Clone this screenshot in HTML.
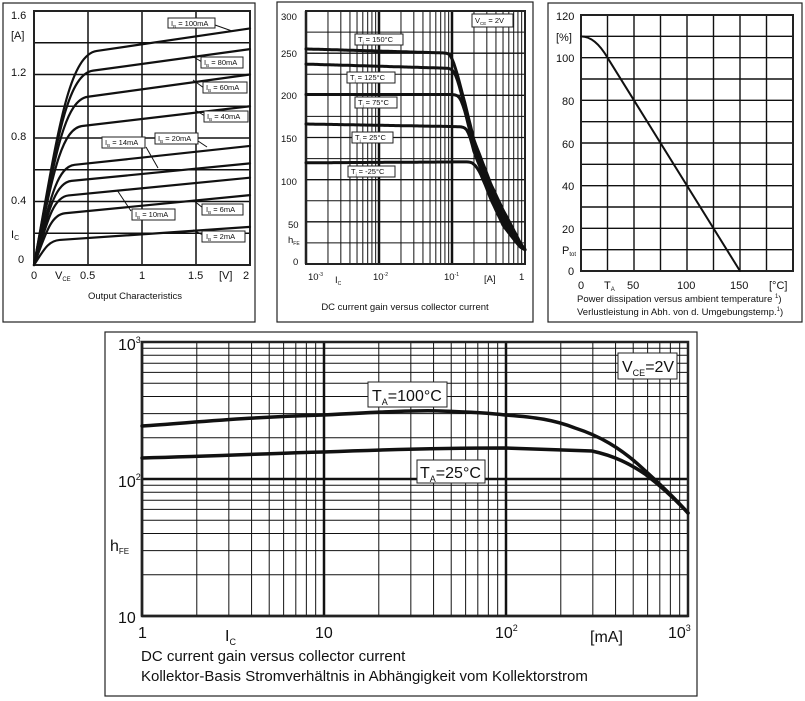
<!DOCTYPE html>
<html><head><meta charset="utf-8"><style>
html,body{margin:0;padding:0;background:#fff;width:805px;height:701px;overflow:hidden}
svg{position:absolute;left:0;top:0}
text{font-family:"Liberation Sans","DejaVu Sans",sans-serif;fill:#111}
</style></head><body>
<svg id="s" width="805" height="701" viewBox="0 0 805 701" xmlns="http://www.w3.org/2000/svg">
<g id="g"></g>
<g id="t">
<g font-size="11">
<text x="11" y="19">1.6</text><text x="11" y="39">[A]</text><text x="11" y="76">1.2</text>
<text x="11" y="140">0.8</text><text x="11" y="204">0.4</text><text x="11" y="238">I<tspan font-size="7" dy="2">C</tspan></text>
<text x="18" y="263">0</text>
<text x="31" y="279">0</text><text x="55" y="279">V<tspan font-size="6" dy="2">CE</tspan></text>
<text x="80" y="279">0.5</text><text x="139" y="279">1</text><text x="188" y="279">1.5</text>
<text x="219" y="279">[V]</text><text x="243" y="279">2</text>
</g>
<text x="135" y="299" font-size="9.5" text-anchor="middle">Output Characteristics</text>
<g font-size="9.5">
<text x="281" y="20">300</text><text x="281" y="57">250</text><text x="281" y="99">200</text>
<text x="281" y="142">150</text><text x="281" y="185">100</text><text x="288" y="228">50</text>
<text x="288" y="243">h<tspan font-size="5" dy="2">FE</tspan></text><text x="293" y="265">0</text>
<text x="308" y="280">10<tspan font-size="5" dy="-4">-3</tspan></text>
<text x="335" y="283">I<tspan font-size="5" dy="2">C</tspan></text>
<text x="373" y="280">10<tspan font-size="5" dy="-4">-2</tspan></text>
<text x="444" y="280">10<tspan font-size="5" dy="-4">-1</tspan></text>
<text x="484" y="282">[A]</text><text x="519" y="280">1</text>
</g>
<text x="405" y="310" font-size="9.5" text-anchor="middle">DC current gain versus collector current</text>
<g font-size="11">
<text x="556" y="20">120</text><text x="556" y="41">[%]</text><text x="556" y="62">100</text>
<text x="562" y="105">80</text><text x="562" y="148">60</text><text x="562" y="190">40</text>
<text x="562" y="233">20</text><text x="562" y="254">P<tspan font-size="6" dy="2">tot</tspan></text>
<text x="568" y="275">0</text>
<text x="578" y="289">0</text><text x="604" y="289">T<tspan font-size="6" dy="2">A</tspan></text>
<text x="627" y="289">50</text><text x="677" y="289">100</text><text x="730" y="289">150</text>
<text x="769" y="289">[°C]</text>
</g>
<g font-size="9.5"><text x="577" y="302">Power dissipation versus ambient temperature <tspan font-size="6" dy="-4">1</tspan><tspan dy="4">)</tspan></text>
<text x="577" y="315">Verlustleistung in Abh. von d. Umgebungstemp.<tspan font-size="6" dy="-4">1</tspan><tspan dy="4">)</tspan></text></g>
<g font-size="16">
<text x="118" y="350">10<tspan font-size="9" dy="-7">3</tspan></text>
<text x="118" y="487">10<tspan font-size="9" dy="-7">2</tspan></text>
<text x="110" y="551">h<tspan font-size="8" dy="3">FE</tspan></text>
<text x="118" y="623">10</text>
<text x="138" y="638">1</text><text x="315" y="638">10</text>
<text x="495" y="638">10<tspan font-size="9" dy="-7">2</tspan></text>
<text x="590" y="642">[mA]</text>
<text x="668" y="638">10<tspan font-size="9" dy="-7">3</tspan></text>
<text x="225" y="641">I<tspan font-size="9" dy="4">C</tspan></text>
</g>
<g font-size="15"><text x="141" y="661">DC current gain versus collector current</text>
<text x="141" y="681">Kollektor-Basis Stromverhältnis in Abhängigkeit vom Kollektorstrom</text></g>
</g>
</svg>
<script>
var NS="http://www.w3.org/2000/svg",G=document.getElementById('g');
function el(n,a,p){var e=document.createElementNS(NS,n);for(var k in a)e.setAttribute(k,a[k]);(p||G).appendChild(e);return e}
function ln(x1,y1,x2,y2,w){el('line',{x1:x1,y1:y1,x2:x2,y2:y2,stroke:'#111','stroke-width':w||1})}
function rect(x,y,w,h,sw,fill){el('rect',{x:x,y:y,width:w,height:h,fill:fill||'none',stroke:'#222','stroke-width':sw||1})}
function path(d,w){el('path',{d:d,fill:'none',stroke:'#111','stroke-width':w||2,'stroke-linejoin':'round','stroke-linecap':'round'})}
rect(3,3,252,319,1.2);rect(277,2,256,320,1.2);rect(548,3,254,319,1.2);rect(105,332,592,364,1.2);
var L1=34,R1=250,B1=265,T1=11;
for(var i=0;i<=8;i++){var y=B1-i*(B1-T1)/8;ln(L1,y,R1,y,1.5)}
for(var i=0;i<=4;i++){var x=L1+i*(R1-L1)/4;ln(x,T1,x,B1,1.5)}
rect(L1,T1,R1-L1,B1-T1,2);
function X1(v){return L1+v*(R1-L1)/2}function Y1(i){return B1-i*(B1-T1)/1.6}
[[1.34,1.49],[1.22,1.36],[1.06,1.2],[0.88,1.0],[0.64,0.75],[0.54,0.64],[0.45,0.55],[0.34,0.44],[0.17,0.24]].forEach(function(c){
 var m=(c[1]-c[0])/1.5,K=c[0]-0.5*m,vk=0.13+0.2*K;
 var d='M'+X1(0)+' '+Y1(0)+' C'+X1(0.55*vk)+' '+Y1(0.62*K)+' '+X1(0.8*vk)+' '+Y1(K+m*0.8*vk)+' '+X1(1.5*vk)+' '+Y1(K+m*1.5*vk)+' L'+X1(2)+' '+Y1(K+2*m);
 path(d,2.2)});
var L2=306,R2=525,B2=264,T2=11;
function X2(I){return L2+(Math.log10(I)+3)*(R2-L2)/3}function Y2(h){return B2-h*(B2-T2)/300}
for(var h=0;h<=300;h+=25)ln(L2,Y2(h),R2,Y2(h),h%50?1:1.3);
for(var d=-3;d<0;d++)for(var k=1;k<10;k++){var x=X2(k*Math.pow(10,d));ln(x,T2,x,B2,k==1?2.5:1)}
rect(L2,T2,R2-L2,B2-T2,2);
var fall=[[0.06,330],[0.1,240],[0.12,214],[0.15,182],[0.2,138],[0.34,86],[0.5,55],[0.87,22],[1,17]];
function fv(I){if(I<=fall[0][0])return 1e9;for(var i=1;i<fall.length;i++)if(I<=fall[i][0]){var a=fall[i-1],b=fall[i],t=(Math.log(I)-Math.log(a[0]))/(Math.log(b[0])-Math.log(a[0]));return a[1]+(b[1]-a[1])*t}return 17}
[[255,250,10],[237,232,5],[201,201,0],[166,163,-5],[120,121,-10]].forEach(function(c){
 var d='';for(var j=0;j<=120;j++){var I=Math.pow(10,-3+3*j/120);var fl=c[0]+(c[1]-c[0])*(j/80);var f=fv(I)+c[2]*(1-Math.min(1,Math.max(0,(I-0.5)/0.5)))*0.9;
  var k=9,h=-Math.log(Math.exp(-fl/k)+Math.exp(-f/k))*k;d+=(j?'L':'M')+X2(I).toFixed(1)+' '+Y2(h).toFixed(1)}
 path(d,3)});
var L3=581,R3=793,B3=271,T3=15;
function X3(t){return L3+t*(R3-L3)/200}function Y3(p){return B3-p*(B3-T3)/120}
for(var p=0;p<=120;p+=10)ln(L3,Y3(p),R3,Y3(p),1.4);for(var t=0;t<=200;t+=25)ln(X3(t),T3,X3(t),B3,1.4);
rect(L3,T3,R3-L3,B3-T3,2);
path('M'+X3(0)+' '+Y3(110)+' C'+X3(10)+' '+Y3(110)+' '+X3(18)+' '+Y3(106)+' '+X3(25)+' '+Y3(100)+' L'+X3(150)+' '+Y3(0),2);
var L4=142,R4=688,B4=616,T4=342;
function X4(I){return L4+Math.log10(I)*(R4-L4)/3}function Y4(h){return B4-(Math.log10(h)-1)*(B4-T4)/2}
for(var d=0;d<3;d++)for(var k=1;k<10;k++){var x=X4(k*Math.pow(10,d));ln(x,T4,x,B4,k==1?2.5:1)}
for(var d=1;d<3;d++)for(var k=1;k<10;k++){var y=Y4(k*Math.pow(10,d));ln(L4,y,R4,y,k==1?2.5:1)}
rect(L4,T4,R4-L4,B4-T4,2.5);
path('M142 426 C200 422 250 417 323 415 C380 412 420 410 440 411 C470 412 490 413 505 415 C535 417 555 420 575 428 C600 436 620 448 640 466 C660 484 675 498 688 513',3.5);
path('M142 458 C220 456 280 453 323 452 C400 449 460 448 505 448 C540 449 570 450 592 451 C615 456 630 464 645 474 C662 487 675 499 688 513',3.5);
function lbox(x,y,w,h){rect(x,y,w,h,1,'#fff')}
[[215,25,232,31],[192,56,202,62],[193,80,204,88],[195,110,205,116],[146,147,158,168],[198,141,207,147],[131,211,117,190],[193,200,203,208],[193,230,203,235]].forEach(function(a){ln(a[0],a[1],a[2],a[3],1)});
[[168,18,47,10],[201,57,42,11],[203,82,44,11],[204,111,44,11],[102,137,43,11],[155,133,43,11],[132,209,43,11],[202,204,41,11],[202,231,43,11]].forEach(function(b){lbox(b[0],b[1],b[2],b[3])});
[[355,34,48,11],[347,72,48,11],[355,97,42,11],[352,132,41,11],[348,166,47,11],[472,14,41,13]].forEach(function(b){lbox(b[0],b[1],b[2],b[3])});
lbox(368,382,79,25);lbox(417,460,68,23);lbox(618,353,59,26);
</script>
<svg width="805" height="701" viewBox="0 0 805 701" xmlns="http://www.w3.org/2000/svg" style="pointer-events:none">
<g font-family="Liberation Sans, sans-serif" fill="#111">
<g font-size="7.5">
<text x="171" y="26">I<tspan font-size="4.5" dy="2">B</tspan><tspan dy="-2"> = 100mA</tspan></text>
<text x="204" y="65">I<tspan font-size="4.5" dy="2">B</tspan><tspan dy="-2"> = 80mA</tspan></text>
<text x="206" y="90">I<tspan font-size="4.5" dy="2">B</tspan><tspan dy="-2"> = 60mA</tspan></text>
<text x="207" y="119">I<tspan font-size="4.5" dy="2">B</tspan><tspan dy="-2"> = 40mA</tspan></text>
<text x="105" y="145">I<tspan font-size="4.5" dy="2">B</tspan><tspan dy="-2"> = 14mA</tspan></text>
<text x="158" y="141">I<tspan font-size="4.5" dy="2">B</tspan><tspan dy="-2"> = 20mA</tspan></text>
<text x="135" y="217">I<tspan font-size="4.5" dy="2">B</tspan><tspan dy="-2"> = 10mA</tspan></text>
<text x="206" y="212">I<tspan font-size="4.5" dy="2">B</tspan><tspan dy="-2"> = 6mA</tspan></text>
<text x="206" y="239">I<tspan font-size="4.5" dy="2">B</tspan><tspan dy="-2"> = 2mA</tspan></text>
<text x="358" y="42">T<tspan font-size="4.5" dy="2">j</tspan><tspan dy="-2"> = 150°C</tspan></text>
<text x="350" y="80">T<tspan font-size="4.5" dy="2">j</tspan><tspan dy="-2"> = 125°C</tspan></text>
<text x="358" y="105">T<tspan font-size="4.5" dy="2">j</tspan><tspan dy="-2"> = 75°C</tspan></text>
<text x="355" y="140">T<tspan font-size="4.5" dy="2">j</tspan><tspan dy="-2"> = 25°C</tspan></text>
<text x="351" y="174">T<tspan font-size="4.5" dy="2">j</tspan><tspan dy="-2"> = -25°C</tspan></text>
<text x="475" y="23">V<tspan font-size="4.5" dy="2">CE</tspan><tspan dy="-2"> = 2V</tspan></text>
</g>
<g font-size="16">
<text x="372" y="401">T<tspan font-size="9" dy="4">A</tspan><tspan dy="-4">=100°C</tspan></text>
<text x="420" y="478">T<tspan font-size="9" dy="4">A</tspan><tspan dy="-4">=25°C</tspan></text>
<text x="622" y="372">V<tspan font-size="9" dy="4">CE</tspan><tspan dy="-4">=2V</tspan></text>
</g></g></svg>
</body></html>
